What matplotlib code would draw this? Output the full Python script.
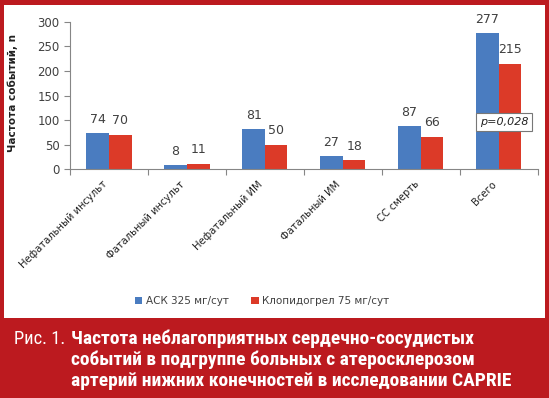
import matplotlib
matplotlib.use("Agg")
import matplotlib.pyplot as plt
from matplotlib.patches import Rectangle, Patch
from matplotlib import font_manager
import numpy as np

categories = ["Нефатальный инсульт", "Фатальный инсульт", "Нефатальный ИМ",
              "Фатальный ИМ", "СС смерть", "Всего"]
ask_values = [74, 8, 81, 27, 87, 277]
clop_values = [70, 11, 50, 18, 66, 215]
series_names = ["АСК 325 мг/сут", "Клопидогрел 75 мг/сут"]
y_ticks = [0, 50, 100, 150, 200, 250, 300]
p_text = "p=0,028"
y_label = "Частота событий, n"

RED_FRAME = "#BC1A1F"
BLUE = "#4A7CC0"
RED = "#DC3A28"
TXT = "#404040"

W, H = 549, 398
fig = plt.figure(figsize=(W / 100, H / 100), dpi=100)
fig.patch.set_facecolor(RED_FRAME)
fig.patches.append(Rectangle((4 / W, 1 - 318 / H), (545 - 4) / W, (318 - 5) / H,
                             transform=fig.transFigure, facecolor="white",
                             edgecolor="none", zorder=-5))

ax = fig.add_axes([70 / W, 1 - 169.3 / H, (537.7 - 70) / W, (169.3 - 21.7) / H])
ax.set_zorder(2)
ax.set_facecolor("none")
x = np.arange(len(categories))
bw = 0.29
b1 = ax.bar(x - bw / 2, ask_values, bw, color=BLUE, zorder=2)
b2 = ax.bar(x + bw / 2, clop_values, bw, color=RED, zorder=2)
for bars, vals in ((b1, ask_values), (b2, clop_values)):
    for r, v in zip(bars, vals):
        ax.annotate(str(v), (r.get_x() + r.get_width() / 2, v), xytext=(0, 10),
                    textcoords="offset points", ha="center", va="center",
                    fontsize=9, color=TXT)

ax.set_xlim(-0.5, len(categories) - 0.5)
ax.set_ylim(0, 300)
ax.set_yticks(y_ticks)
ax.tick_params(axis="y", labelsize=8.5, labelcolor=TXT, color="#868686", length=4, width=0.8)
ax.set_xticks(x)
ax.set_xticklabels(categories, rotation=45, ha="right", fontsize=7.2, color="#222222")
ax.tick_params(axis="x", length=0, pad=7)
ax.set_xticks(np.arange(-0.5, len(categories)), minor=True)
ax.tick_params(axis="x", which="minor", length=4, color="#868686", width=0.8)
for s in ("top", "right"):
    ax.spines[s].set_visible(False)
for s in ("left", "bottom"):
    ax.spines[s].set_color("#868686")
    ax.spines[s].set_linewidth(0.8)

fig.text(13 / W, 1 - 93 / H, y_label, rotation=90, ha="center", va="center",
         fontsize=7.5, fontweight="bold", color="#222222")

fig.text(504 / W, 1 - 122 / H, p_text, ha="center", va="center", fontsize=8,
         style="italic", color="#222222", zorder=5,
         bbox=dict(boxstyle="square,pad=0.35", facecolor="white", edgecolor="#777777", linewidth=0.8))

handles = [Patch(facecolor=BLUE, edgecolor="none"), Patch(facecolor=RED, edgecolor="none")]
fig.legend(handles, series_names, loc="center", bbox_to_anchor=(262 / W, 1 - 301 / H),
           ncol=2, frameon=False, fontsize=7.5, handlelength=0.75, handleheight=0.75,
           handletextpad=0.3, columnspacing=2.2, labelcolor=TXT)

available = {f.name for f in font_manager.fontManager.ttflist}
cands = ["Roboto Condensed", "Liberation Sans Narrow", "Arial Narrow", "Roboto"]
cap_family = [c for c in cands if c in available] or ["DejaVu Sans"]
cap_family = [cap_family[0], "DejaVu Sans"]
narrow = cap_family[0] != "Roboto"
fs = 14.0 if narrow else 11.5

fig.text(14 / W, 1 - 343.5 / H, "Рис. 1.", ha="left", va="baseline", fontsize=fs * 0.95,
         color="white", family=cap_family)
lines = ["Частота неблагоприятных сердечно-сосудистых",
         "событий в подгруппе больных с атеросклерозом",
         "артерий нижних конечностей в исследовании CAPRIE"]
for i, ln in enumerate(lines):
    fig.text(71 / W, 1 - (343.5 + 21.3 * i) / H, ln, ha="left", va="baseline",
             fontsize=fs, fontweight="bold", color="white", family=cap_family)

fig.savefig("out.png", dpi=100, facecolor=fig.get_facecolor())
